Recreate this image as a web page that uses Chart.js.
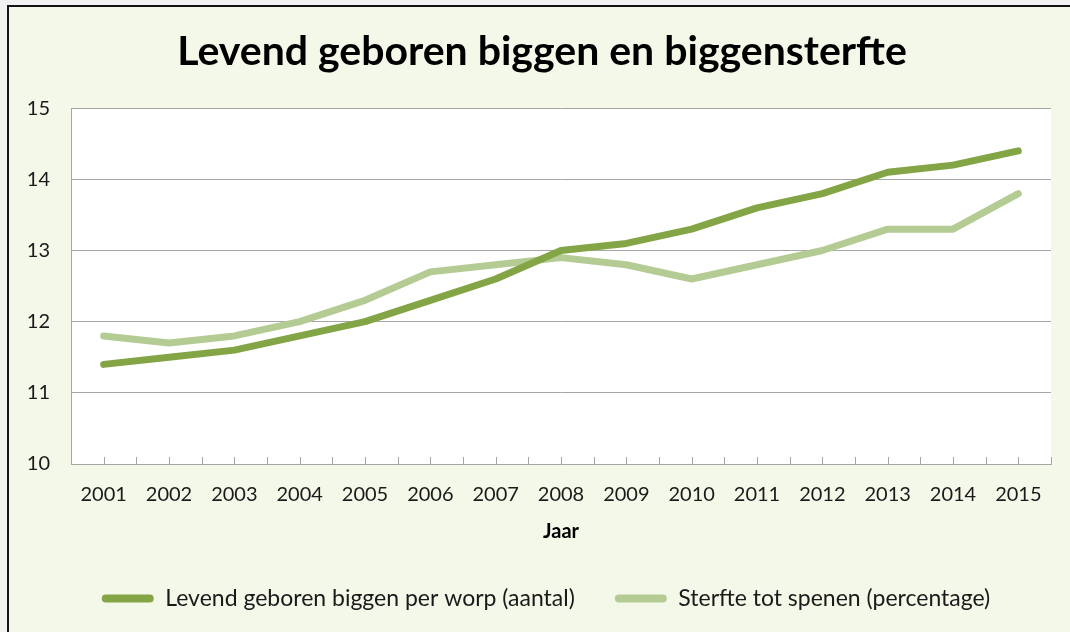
<!DOCTYPE html>
<html>
<head>
<meta charset="utf-8">
<script src="https://cdn.jsdelivr.net/npm/chart.js@4"></script>
<style>
  html, body { margin: 0; padding: 0; background: #f2f2f2; overflow: hidden; }
  #frame {
    position: absolute; left: 7px; top: 5px;
    width: 1100px; height: 660px;
    border: 2px solid #141414;
    background: #f4f8e9;
  }
  #wrap { position: absolute; left: 0; top: 0; width: 1070px; height: 632px; }
</style>
</head>
<body>
<div id="frame"></div>
<div id="wrap"><canvas id="chart" width="1070" height="632"></canvas></div>
<script>
const years = ["2001", "2002", "2003", "2004", "2005", "2006", "2007", "2008",
  "2009", "2010", "2011", "2012", "2013", "2014", "2015"];
const levendGeboren = [11.4, 11.5, 11.6, 11.8, 12.0, 12.3, 12.6, 13.0, 13.1, 13.3,
  13.6, 13.8, 14.1, 14.2, 14.4];
const sterfte = [11.8, 11.7, 11.8, 12.0, 12.3, 12.7, 12.8, 12.9, 12.8, 12.6,
  12.8, 13.0, 13.3, 13.3, 13.8];

const darkGreen = "#84a546";
const lightGreen = "#b4cc94";
const axisGrey = "#a6a6a6";

// white plot area + small inward ticks on the category axis
const plotDecor = {
  id: "plotDecor",
  afterLayout(chart) {
    // title and legend sit a bit right of the canvas centre in the original
    chart.titleBlock.left += 12;
    chart.titleBlock.right += 12;
    chart.legend.left += 16;
    chart.legend.right += 16;
  },
  beforeDraw(chart) {
    const { ctx, chartArea } = chart;
    ctx.save();
    ctx.fillStyle = "#ffffff";
    ctx.fillRect(chartArea.left, chartArea.top, chartArea.right - chartArea.left, chartArea.bottom - chartArea.top);
    ctx.restore();
  },
  afterDatasetsDraw(chart) {
    const { ctx, chartArea, scales } = chart;
    const x = scales.x;
    const half = (x.getPixelForValue(1) - x.getPixelForValue(0)) / 2;
    ctx.save();
    ctx.strokeStyle = axisGrey;
    ctx.lineWidth = 1;
    ctx.beginPath();
    for (let i = 0; i < years.length; i++) {
      const c = x.getPixelForValue(i);
      [c, c + half].forEach(px => {
        const p = Math.round(px) + 0.5;
        ctx.moveTo(p, chartArea.bottom);
        ctx.lineTo(p, chartArea.bottom - 7);
      });
    }
    ctx.stroke();
    ctx.restore();
  }
};

const ctx = document.getElementById("chart").getContext("2d");
new Chart(ctx, {
  type: "line",
  data: {
    labels: years,
    datasets: [
      {
        label: "Levend geboren biggen per worp (aantal)",
        data: levendGeboren,
        borderColor: darkGreen,
        backgroundColor: darkGreen,
        borderWidth: 7,
        pointRadius: 0,
        borderCapStyle: "round",
        borderJoinStyle: "round",
        tension: 0
      },
      {
        label: "Sterfte tot spenen (percentage)",
        data: sterfte,
        borderColor: lightGreen,
        backgroundColor: lightGreen,
        borderWidth: 7,
        pointRadius: 0,
        borderCapStyle: "round",
        borderJoinStyle: "round",
        tension: 0
      }
    ]
  },
  options: {
    responsive: false,
    animation: false,
    layout: { padding: { left: 9, right: 19, top: 0, bottom: 12 } },
    plugins: {
      title: {
        display: true,
        text: "Levend geboren biggen en biggensterfte",
        color: "#000000",
        font: { family: "Lato", size: 41, weight: "bold" },
        padding: { top: 27, bottom: 32 }
      },
      legend: {
        position: "bottom",
        labels: {
          color: "#1a1a1a",
          font: { family: "Lato", size: 23 },
          boxWidth: 52,
          boxHeight: 8,
          padding: 40,
          generateLabels(chart) {
            return chart.data.datasets.map((ds, i) => ({
              text: ds.label,
              fillStyle: ds.borderColor,
              strokeStyle: ds.borderColor,
              lineWidth: 0,
              borderRadius: 4,
              datasetIndex: i,
              fontColor: "#1a1a1a"
            }));
          }
        }
      },
      tooltip: { enabled: false }
    },
    scales: {
      x: {
        offset: true,
        grid: { display: false, drawTicks: false },
        border: { display: true, color: axisGrey, width: 1 },
        ticks: { color: "#1a1a1a", font: { family: "Lato", size: 20 }, padding: 19, maxRotation: 0 },
        title: {
          display: true,
          text: "Jaar",
          color: "#000000",
          font: { family: "Lato", size: 20, weight: "bold" },
          padding: { top: 0, bottom: 3 }
        },
        afterFit(scale) { scale.height = 83; }
      },
      y: {
        min: 10,
        max: 15,
        ticks: { stepSize: 1, color: "#1a1a1a", font: { family: "Lato", size: 20 }, padding: 21 },
        grid: { color: axisGrey, lineWidth: 1, drawTicks: false },
        border: { display: true, color: axisGrey, width: 1 },
        afterFit(scale) { scale.width = 62; }
      }
    }
  },
  plugins: [plotDecor]
});
</script>
</body>
</html>
